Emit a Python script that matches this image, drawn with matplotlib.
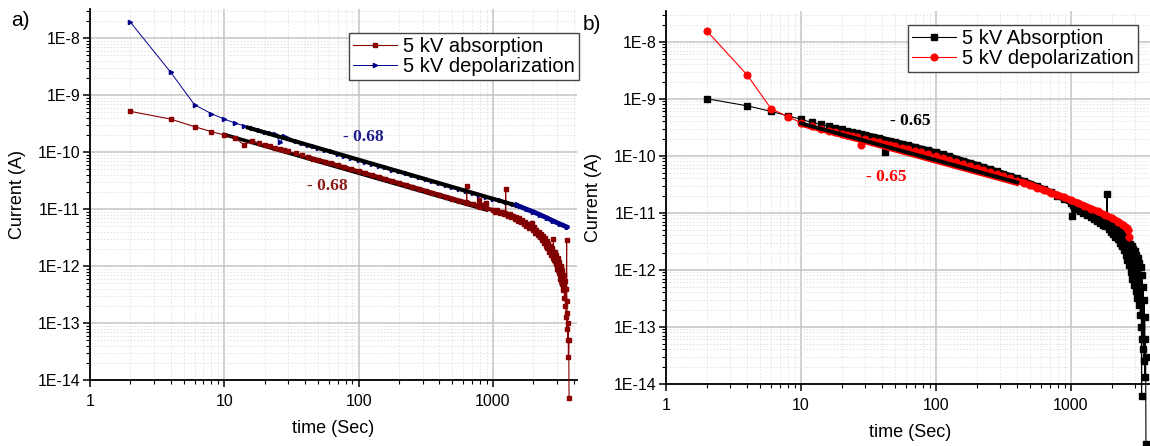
import numpy as np
import matplotlib.pyplot as plt
from matplotlib.ticker import LogLocator, FixedLocator, FuncFormatter, NullFormatter

plt.rcParams['font.family'] = ['Liberation Sans', 'DejaVu Sans']

# ---- panel a) : absorption / depolarization currents ----
a_abs_t = [2, 4, 6, 8, 10, 12, 14, 16, 18, 20, 22, 24, 26, 28, 30, 34, 38, 42, 46, 50,
           56, 62, 70, 78, 88, 100, 112, 126, 142, 158, 178, 200, 224, 250, 282, 316,
           354, 398, 446, 500, 562, 630, 636, 638, 640, 708, 780, 794, 800, 889, 890,
           1000, 1040, 1080, 1120, 1160, 1200, 1240, 1245, 1250, 1290, 1330, 1370, 1410,
           1450, 1490, 1530, 1570, 1610, 1650, 1690, 1730, 1770, 1810, 1850, 1890, 1950,
           1990, 2030, 2070, 2110, 2150, 2190, 2230, 2270, 2310, 2350, 2390, 2430, 2470,
           2510, 2550, 2590, 2630, 2670, 2710, 2750, 2790, 2820, 2850, 2890, 2930, 2970,
           3010, 3050, 3090, 3130, 3170, 3210, 3250, 3290, 3330, 3370, 3410, 3440, 3470,
           3500, 3520, 3540, 3550, 3570, 3590, 3610, 3630, 3650, 3670, 3690]
a_abs_i = [5.2e-10, 3.8e-10, 2.8e-10, 2.3e-10, 2.0e-10, 1.8e-10, 1.35e-10, 1.55e-10, 1.45e-10,
           1.35e-10, 1.26e-10, 1.19e-10, 1.13e-10, 1.08e-10, 1.03e-10, 9.5e-11, 8.8e-11, 8.2e-11,
           7.7e-11, 7.3e-11, 6.8e-11, 6.35e-11, 5.85e-11, 5.45e-11, 5.0e-11, 4.6e-11, 4.26e-11,
           3.93e-11, 3.63e-11, 3.37e-11, 3.11e-11, 2.87e-11, 2.66e-11, 2.47e-11, 2.28e-11,
           2.1e-11, 1.94e-11, 1.8e-11, 1.66e-11, 1.54e-11, 1.42e-11, 1.32e-11, 1.3e-11, 2.57e-11,
           1.3e-11, 1.22e-11, 1.12e-11, 1.46e-11, 1.1e-11, 1.27e-11, 1.03e-11,
           9.7e-12, 9.0e-12, 9.5e-12, 8.6e-12, 9.0e-12, 8.2e-12, 8.6e-12, 2.24e-11, 8.2e-12,
           7.6e-12, 8.2e-12, 7.2e-12, 7.7e-12, 6.8e-12, 7.3e-12, 6.3e-12, 6.9e-12, 5.9e-12,
           6.4e-12, 5.5e-12, 6.0e-12, 5.1e-12, 5.6e-12, 4.7e-12, 5.2e-12, 5.8e-12, 4.3e-12,
           4.8e-12, 3.9e-12, 4.4e-12, 3.5e-12, 4.0e-12, 3.2e-12, 3.7e-12, 2.9e-12, 3.4e-12,
           2.6e-12, 3.1e-12, 2.3e-12, 2.8e-12, 2.1e-12, 2.5e-12, 1.8e-12, 2.3e-12, 1.6e-12,
           2.1e-12, 1.4e-12, 3.0e-12, 1.3e-12, 1.8e-12, 1.1e-12, 1.6e-12, 9e-13, 1.4e-12,
           7.5e-13, 1.2e-12, 6e-13, 1.0e-12, 4.8e-13, 8.5e-13, 3.8e-13, 7e-13, 2.8e-13, 5.5e-13,
           2e-13, 4e-13, 1.3e-13, 2.9e-12, 2.5e-13, 8e-14, 1.5e-13, 5e-14, 1e-13, 2.6e-14,
           5e-14, 4.8e-15]

a_dep_t = [2, 4, 6, 8, 10, 12, 14, 16, 18, 20, 22, 24, 26, 28, 30, 34, 38, 42, 46, 50,
           56, 62, 70, 78, 88, 100, 112, 126, 142, 158, 178, 200, 224, 250, 282, 316,
           354, 398, 446, 500, 562, 630, 708, 794, 890, 1000, 1120, 1260, 1410, 1500,
           1580, 1780, 2000, 2240, 2510, 2820, 3160, 3540]
a_dep_i = [1.9e-8, 2.5e-9, 6.8e-10, 4.75e-10, 3.8e-10, 3.25e-10, 2.9e-10, 2.65e-10, 2.45e-10,
           2.3e-10, 2.15e-10, 2.05e-10, 1.5e-10, 1.9e-10, 1.8e-10, 1.55e-10, 1.44e-10, 1.34e-10,
           1.26e-10, 1.19e-10, 1.1e-10, 1.03e-10, 9.4e-11, 8.7e-11, 8.0e-11, 7.35e-11, 6.8e-11,
           6.3e-11, 5.8e-11, 5.4e-11, 4.97e-11, 4.6e-11, 4.26e-11, 3.95e-11, 3.64e-11, 3.37e-11,
           3.12e-11, 2.88e-11, 2.66e-11, 2.47e-11, 2.28e-11, 2.11e-11, 1.95e-11, 1.8e-11,
           1.67e-11, 1.54e-11, 1.44e-11, 1.33e-11, 1.23e-11, 1.19e-11, 1.12e-11, 1.0e-11,
           9.0e-12, 8.0e-12, 7.1e-12, 6.2e-12, 5.5e-12, 4.9e-12]

# power-law fits (slope -0.68), end points
a_fit_abs_t = [10, 898]
a_fit_abs_i = [2.04e-10, 9.7e-12]
a_fit_dep_t = [15, 1510]
a_fit_dep_i = [2.7e-10, 1.15e-11]

# ---- panel b) ----
b_abs_t = [2, 4, 6, 8, 10, 12, 14, 16, 18, 20, 22, 24, 26, 28, 30, 34, 38, 42, 46, 50,
           56, 62, 70, 78, 88, 100, 112, 126, 142, 158, 178, 200, 224, 250, 282, 316,
           354, 398, 446, 500, 562, 630, 708, 794, 890, 1000, 1023, 1040, 1080, 1120, 1160,
           1200, 1240, 1280, 1320, 1360, 1400, 1440, 1480, 1520, 1560, 1600, 1640, 1680,
           1720, 1760, 1800, 1840, 1850, 1860, 1900, 1940, 1980, 2020, 2060, 2100, 2140,
           2180, 2220, 2260, 2300, 2340, 2380, 2420, 2460, 2500, 2540, 2580, 2620, 2660,
           2700, 2740, 2780, 2820, 2860, 2900, 2940, 2980, 3020, 3060, 3100, 3140, 3180,
           3220, 3260, 3300, 3330, 3340, 3360, 3390, 3420, 3450, 3480, 3500, 3520, 3540,
           3560, 3580, 3600]
b_abs_i = [1.0e-9, 7.5e-10, 6.0e-10, 5.0e-10, 4.35e-10, 3.85e-10, 3.55e-10, 3.28e-10,
           3.08e-10, 2.9e-10, 2.76e-10, 2.63e-10, 2.52e-10, 2.42e-10, 2.32e-10, 2.16e-10,
           2.03e-10, 1.17e-10, 1.82e-10, 1.73e-10, 1.62e-10, 1.52e-10, 1.42e-10, 1.33e-10,
           1.24e-10, 1.14e-10, 1.05e-10, 9.7e-11, 8.9e-11, 8.2e-11, 7.5e-11, 6.9e-11,
           6.3e-11, 5.8e-11, 5.3e-11, 4.8e-11, 4.4e-11, 4.0e-11, 3.6e-11, 3.25e-11, 2.9e-11,
           2.6e-11, 2.3e-11, 2.0e-11, 1.75e-11, 1.5e-11, 8.8e-12, 1.35e-11, 1.15e-11, 1.3e-11,
           1.05e-11, 1.2e-11, 9.8e-12, 1.12e-11, 9.0e-12, 1.05e-11, 8.4e-12, 9.8e-12, 7.8e-12,
           9.2e-12, 7.2e-12, 8.6e-12, 6.7e-12, 8.0e-12, 6.2e-12, 7.5e-12, 5.8e-12, 7.0e-12,
           2.1e-11, 6.6e-12, 5.2e-12, 6.5e-12, 4.6e-12, 6.0e-12, 4.2e-12, 5.6e-12, 3.8e-12,
           5.2e-12, 3.4e-12, 4.8e-12, 3.0e-12, 4.4e-12, 2.6e-12, 4.0e-12, 2.2e-12, 3.7e-12,
           1.8e-12, 3.4e-12, 1.5e-12, 3.1e-12, 1.2e-12, 2.8e-12, 9e-13, 2.6e-12, 7e-13,
           2.3e-12, 5.5e-13, 2.1e-12, 4.2e-13, 1.8e-12, 3.2e-13, 1.6e-12, 2.4e-13, 1.3e-12,
           1.6e-13, 1.1e-12, 1.0e-13, 6e-15, 8e-13, 6e-14, 5e-13, 4e-14, 3e-13, 2.5e-14,
           1.5e-13, 1.3e-14, 6e-14, 3e-14, 8.6e-16]

b_dep_t = [2, 4, 6, 8, 10, 12, 14, 16, 18, 20, 22, 24, 26, 28, 30, 34, 38, 42, 46, 50,
           56, 62, 70, 78, 88, 100, 112, 126, 142, 158, 178, 200, 224, 250, 282, 316,
           354, 398, 446, 500, 562, 630, 708, 794, 890, 1000, 1120, 1260, 1410, 1580,
           1780, 2000, 2240, 2420, 2590, 2660, 2700]
b_dep_i = [1.56e-8, 2.6e-9, 6.7e-10, 4.83e-10, 3.8e-10, 3.3e-10, 2.95e-10, 2.75e-10,
           2.58e-10, 2.44e-10, 2.32e-10, 2.21e-10, 2.12e-10, 1.54e-10, 1.96e-10, 1.83e-10,
           1.72e-10, 1.63e-10, 1.55e-10, 1.48e-10, 1.39e-10, 1.31e-10, 1.22e-10, 1.14e-10,
           1.06e-10, 9.8e-11, 9.1e-11, 8.4e-11, 7.8e-11, 7.2e-11, 6.6e-11, 6.1e-11, 5.6e-11,
           5.2e-11, 4.8e-11, 4.4e-11, 4.0e-11, 3.65e-11, 3.35e-11, 3.05e-11, 2.75e-11,
           2.5e-11, 2.25e-11, 2.05e-11, 1.85e-11, 1.65e-11, 1.48e-11, 1.32e-11, 1.18e-11,
           1.05e-11, 9.2e-12, 8.1e-12, 7.0e-12, 6.2e-12, 5.5e-12, 5.0e-12, 3.7e-12]

b_fit_abs_t = [10, 400]
b_fit_abs_i = [3.7e-10, 3.4e-11]
b_fit_dep_t = [10, 400]
b_fit_dep_i = [3.45e-10, 3.15e-11]

x_ticks = [1, 10, 100, 1000]
y_ticks = [1e-14, 1e-13, 1e-12, 1e-11, 1e-10, 1e-9, 1e-8]

W, H = 1150, 446
fig = plt.figure(figsize=(W / 100, H / 100), dpi=100)
fig.patch.set_facecolor('white')


def px(x, y):
    # figure pixel (from top-left) -> figure fraction
    return x / W, 1 - y / H


def band(t, i, t0, t1):
    # dense part of a series without the single-point spikes/dips
    t = np.asarray(t, float)
    i = np.asarray(i, float)
    keep = []
    for k in range(len(t)):
        if not (t0 <= t[k] <= t1):
            continue
        lo, hi = max(k - 2, 0), min(k + 3, len(t))
        med = np.median(i[lo:hi])
        if 0.7 < i[k] / med < 1.4:
            keep.append(k)
    return t[keep], i[keep]


def yfmt(v, pos):
    return '1E%d' % int(round(np.log10(v)))


def xfmt(v, pos):
    return '%d' % round(v)


def style_axes(ax, ylim):
    ax.set_xscale('log')
    ax.set_yscale('log')
    ax.set_xlim(1, 4200)
    ax.set_ylim(*ylim)
    ax.xaxis.set_major_locator(FixedLocator(x_ticks))
    ax.xaxis.set_minor_locator(LogLocator(base=10, subs=np.arange(2, 10), numticks=100))
    ax.yaxis.set_major_locator(FixedLocator(y_ticks))
    ax.yaxis.set_minor_locator(LogLocator(base=10, subs=np.arange(2, 10), numticks=100))
    ax.xaxis.set_major_formatter(FuncFormatter(xfmt))
    ax.yaxis.set_major_formatter(FuncFormatter(yfmt))
    ax.xaxis.set_minor_formatter(NullFormatter())
    ax.yaxis.set_minor_formatter(NullFormatter())
    ax.set_axisbelow(True)
    ax.grid(which='major', color='#c4c4c4', lw=1.1)
    ax.grid(which='minor', color='#e0e0e0', lw=0.6, ls=(0, (2, 2)))
    ax.spines['top'].set_visible(False)
    ax.spines['right'].set_visible(False)
    ax.spines['left'].set_linewidth(1.3)
    ax.spines['bottom'].set_linewidth(1.3)
    ax.tick_params(which='major', direction='out', length=5, width=1.1, labelsize=11.5,
                   pad=2)
    ax.tick_params(axis='x', which='major', pad=5)
    ax.tick_params(which='minor', direction='out', length=3, width=0.8)
    ax.set_xlabel('time (Sec)', fontsize=13)
    ax.set_ylabel('Current (A)', fontsize=13)


def make_legend(ax, x, y):
    leg = ax.legend(loc='upper left', bbox_to_anchor=px(x, y), bbox_transform=fig.transFigure,
                    fontsize=14.5, frameon=True, fancybox=False, framealpha=1,
                    borderaxespad=0, handlelength=2.2, handletextpad=0.3, borderpad=0.2,
                    labelspacing=0.05, numpoints=1)
    leg.get_frame().set_edgecolor('#444444')
    leg.get_frame().set_linewidth(1.0)
    return leg


# ---- a) ----
ax1 = fig.add_axes([90 / W, (H - 380.3) / H, 486.6 / W, 371.5 / H])
style_axes(ax1, (1e-14, 3.27e-8))
ax1.plot(a_abs_t, a_abs_i, color='#8B0000', lw=0.8, marker='s', ms=2.8,
         label='5 kV absorption', clip_on=False, zorder=3)
ax1.plot(a_dep_t, a_dep_i, color='#00008B', lw=0.7, marker='>', ms=3,
         label='5 kV depolarization', clip_on=False, zorder=3)
ax1.plot(a_fit_abs_t, a_fit_abs_i, color='black', lw=2.6, zorder=2.5)
ax1.plot(*band(a_abs_t, a_abs_i, 40, 3400), color='#800000', lw=3.0, zorder=3.2)
ax1.plot(a_fit_dep_t, a_fit_dep_i, color='black', lw=3.0, zorder=4)
ax1.plot(*band(a_dep_t, a_dep_i, 1500, 3600), color='#00008B', lw=3.5, zorder=4.5)
ax1.xaxis.set_label_coords(0.5, -0.108)
ax1.yaxis.set_label_coords(-0.131, 0.5)
make_legend(ax1, 349, 33)

# ---- b) ----
ax2 = fig.add_axes([666 / W, (H - 383.7) / H, 489 / W, 373 / H])
style_axes(ax2, (1e-14, 3.5e-8))
ax2.plot(b_abs_t, b_abs_i, color='black', lw=0.8, marker='s', ms=4.4,
         label='5 kV Absorption', clip_on=False, zorder=3)
ax2.plot(*band(b_abs_t, b_abs_i, 30, 2400), color='black', lw=4.5, zorder=3.1)
ax2.plot(b_dep_t, b_dep_i, color='red', lw=0.8, marker='o', ms=4.8,
         label='5 kV depolarization', clip_on=False, zorder=3.5)
ax2.plot(*band(b_dep_t, b_dep_i, 400, 2680), color='red', lw=5, zorder=3.6)
ax2.plot(b_fit_dep_t, b_fit_dep_i, color='red', lw=2.5, zorder=4)
ax2.plot(b_fit_abs_t, b_fit_abs_i, color='black', lw=2.8, zorder=4.1)
ax2.xaxis.set_label_coords(0.5, -0.108)
ax2.yaxis.set_label_coords(-0.131, 0.5)
make_legend(ax2, 908, 25)

# slope annotations
serif = ['Liberation Serif', 'DejaVu Serif']
notes = [(363, 137, '- 0.68', '#1c1c8c'), (327, 186, '- 0.68', '#8B1A1A'),
         (910, 121, '- 0.65', 'black'), (886, 177, '- 0.65', 'red')]
for x, y, s, c in notes:
    fig.text(*px(x, y), s, color=c, fontsize=12.5, fontweight='bold', family=serif,
             ha='center', va='center')

fig.text(*px(11, 20), 'a)', fontsize=15, ha='left', va='center')
fig.text(*px(583, 25), 'b)', fontsize=15, ha='left', va='center')

fig.savefig('out.png', dpi=100)
